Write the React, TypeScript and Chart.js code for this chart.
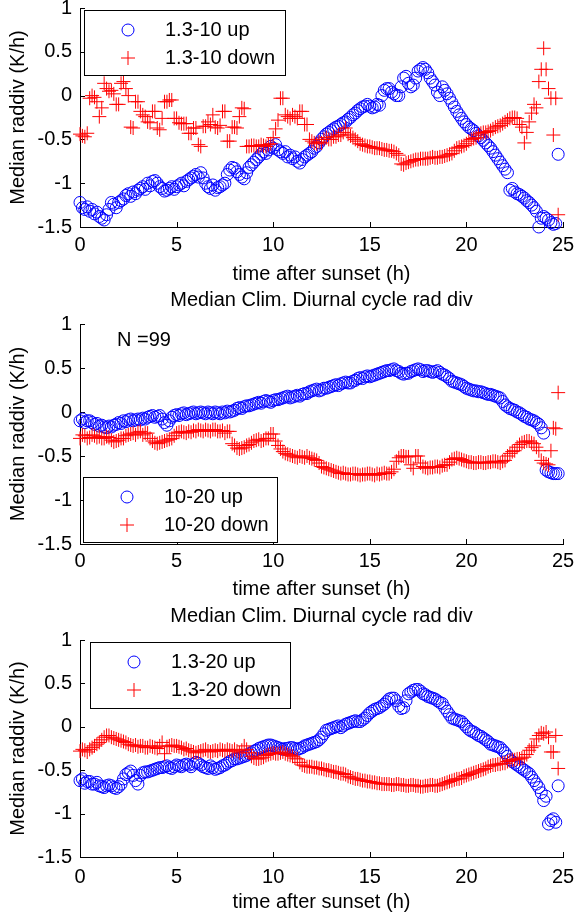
import React, { useEffect, useRef } from "react";
import { Chart, registerables } from "chart.js";

Chart.register(...registerables);

// ---------- data ----------
const hours = [
  0, 0.125, 0.25, 0.375, 0.5, 0.625, 0.75, 0.875,
  1, 1.125, 1.25, 1.375, 1.5, 1.625, 1.75, 1.875,
  2, 2.125, 2.25, 2.375, 2.5, 2.625, 2.75, 2.875,
  3, 3.125, 3.25, 3.375, 3.5, 3.625, 3.75, 3.875,
  4, 4.125, 4.25, 4.375, 4.5, 4.625, 4.75, 4.875,
  5, 5.125, 5.25, 5.375, 5.5, 5.625, 5.75, 5.875,
  6, 6.125, 6.25, 6.375, 6.5, 6.625, 6.75, 6.875,
  7, 7.125, 7.25, 7.375, 7.5, 7.625, 7.75, 7.875,
  8, 8.125, 8.25, 8.375, 8.5, 8.625, 8.75, 8.875,
  9, 9.125, 9.25, 9.375, 9.5, 9.625, 9.75, 9.875,
  10, 10.125, 10.25, 10.375, 10.5, 10.625, 10.75, 10.875,
  11, 11.125, 11.25, 11.375, 11.5, 11.625, 11.75, 11.875,
  12, 12.125, 12.25, 12.375, 12.5, 12.625, 12.75, 12.875,
  13, 13.125, 13.25, 13.375, 13.5, 13.625, 13.75, 13.875,
  14, 14.125, 14.25, 14.375, 14.5, 14.625, 14.75, 14.875,
  15, 15.125, 15.25, 15.375, 15.5, 15.625, 15.75, 15.875,
  16, 16.125, 16.25, 16.375, 16.5, 16.625, 16.75, 16.875,
  17, 17.125, 17.25, 17.375, 17.5, 17.625, 17.75, 17.875,
  18, 18.125, 18.25, 18.375, 18.5, 18.625, 18.75, 18.875,
  19, 19.125, 19.25, 19.375, 19.5, 19.625, 19.75, 19.875,
  20, 20.125, 20.25, 20.375, 20.5, 20.625, 20.75, 20.875,
  21, 21.125, 21.25, 21.375, 21.5, 21.625, 21.75, 21.875,
  22, 22.125, 22.25, 22.375, 22.5, 22.625, 22.75, 22.875,
  23, 23.125, 23.25, 23.375, 23.5, 23.625, 23.75, 23.875,
  24, 24.125, 24.25, 24.375, 24.5, 24.625, 24.75,
];

const xTickValues = [0, 5, 10, 15, 20, 25];
const yTickValues = [-1.5, -1, -0.5, 0, 0.5, 1];

const xAxisTitle = "time after sunset (h)";
const yAxisTitle = "Median raddiv (K/h)";
const panelTitle = "Median Clim. Diurnal cycle rad div";

const labels1 = ["1.3-10 up", "1.3-10 down"];
const labels2 = ["10-20 up", "10-20 down"];
const labels3 = ["1.3-20 up", "1.3-20 down"];
const note2 = "N =99";

const up1 = [
  -1.22, -1.28, -1.3, -1.27, -1.32, -1.3, -1.35, -1.33,
  -1.38, -1.4, -1.42, -1.36, -1.3, -1.22, -1.24, -1.28,
  -1.22, -1.2, -1.18, -1.14, -1.12, -1.15, -1.1, -1.12,
  -1.08, -1.06, -1.04, -1.07, -1.0, -1.03, -0.98, -0.97,
  -1.0, -1.04, -1.06, -1.09, -1.08, -1.06, -1.04, -1.07,
  -1.04, -1.02, -1.0, -1.03, -0.98, -0.96, -0.94, -0.92,
  -0.9, -0.93, -0.88, -0.94, -1.0, -1.04, -1.06, -1.02,
  -1.08, -1.05, -1.04, -1.02, -1.0, -0.9, -0.85, -0.82,
  -0.83, -0.87, -0.9, -0.93, -0.95, -0.88, -0.82, -0.79,
  -0.76, -0.73, -0.7, -0.67, -0.64, -0.66, -0.62, -0.58,
  -0.6, -0.56, -0.62, -0.64, -0.66, -0.64, -0.7, -0.68,
  -0.72, -0.7, -0.75, -0.77, -0.73, -0.7, -0.68, -0.66,
  -0.64, -0.6, -0.58, -0.54, -0.5, -0.47, -0.44, -0.42,
  -0.4, -0.38, -0.36, -0.35, -0.33, -0.31, -0.3, -0.27,
  -0.25, -0.22, -0.2, -0.17, -0.15, -0.13, -0.12, -0.1,
  -0.12, -0.14, -0.13, -0.1, -0.11, 0.0, 0.06, 0.08,
  0.08, 0.04, 0.02, 0.0, 0.0, 0.1, 0.2, 0.22,
  0.14, 0.1, 0.12, 0.2, 0.28, 0.3, 0.32, 0.3,
  0.26, 0.2, 0.16, 0.12, 0.04, 0.0, 0.1, 0.06,
  0.02, -0.03, -0.08, -0.13, -0.18, -0.22, -0.26, -0.3,
  -0.33, -0.36, -0.38, -0.4, -0.43, -0.46, -0.48, -0.51,
  -0.54, -0.57, -0.6, -0.64, -0.68, -0.72, -0.76, -0.8,
  -0.84, -0.88, -1.08, -1.06, -1.1, -1.12, -1.13, -1.15,
  -1.17, -1.2, -1.22, -1.25, -1.28, -1.32, -1.5, -1.4,
  -1.38, -1.4, -1.42, -1.45, -1.47, -1.46, -0.67,
];

const down1 = [
  -0.44, -0.46, -0.47, -0.43, -0.03, 0.0, -0.02, -0.07,
  -0.24, -0.14, 0.14, 0.08, 0.05, 0.06, 0.02, -0.1,
  -0.1, 0.14, 0.16, 0.08, 0.0, -0.36, -0.37, -0.07,
  -0.07, -0.18, -0.22, -0.24, -0.3, -0.31, -0.18, -0.18,
  -0.37, -0.39, -0.26, -0.07, -0.07, -0.05, -0.05, -0.26,
  -0.26, -0.31, -0.32, -0.32, -0.32, -0.43, -0.43, -0.37,
  -0.37, -0.56, -0.58, -0.35, -0.35, -0.3, -0.33, -0.22,
  -0.36, -0.37, -0.34, -0.18, -0.18, -0.52, -0.52, -0.36,
  -0.36, -0.37, -0.24, -0.14, -0.15, -0.58, -0.58, -0.57,
  -0.57, -0.58, -0.58, -0.56, -0.57, -0.58, -0.56, -0.55,
  -0.48, -0.38, -0.28, -0.03, -0.03, -0.22, -0.24, -0.26,
  -0.22, -0.24, -0.26, -0.18, -0.18, -0.33, -0.33, -0.5,
  -0.52, -0.54, -0.55, -0.53, -0.54, -0.5, -0.48, -0.5,
  -0.5, -0.47, -0.47, -0.45, -0.45, -0.42, -0.37, -0.44,
  -0.46, -0.48, -0.5, -0.52, -0.55, -0.56, -0.57, -0.58,
  -0.58, -0.59, -0.6, -0.6, -0.6, -0.61, -0.62, -0.62,
  -0.63, -0.63, -0.64, -0.66, -0.68, -0.78, -0.79, -0.77,
  -0.76, -0.75, -0.74, -0.73, -0.73, -0.72, -0.72, -0.72,
  -0.72, -0.71, -0.7, -0.71, -0.71, -0.7, -0.7, -0.69,
  -0.68, -0.67, -0.66, -0.63, -0.6, -0.59, -0.58, -0.57,
  -0.55, -0.52, -0.5, -0.49, -0.48, -0.45, -0.43, -0.42,
  -0.42, -0.41, -0.4, -0.38, -0.36, -0.35, -0.34, -0.32,
  -0.3, -0.28, -0.26, -0.25, -0.25, -0.26, -0.33, -0.36,
  -0.54, -0.42, -0.3, -0.2, -0.1, -0.14, 0.16, 0.3,
  0.54, 0.3, 0.08, -0.03, -0.45, -0.03, -1.36,
];

const up2 = [
  -0.1, -0.08, -0.12, -0.1, -0.1, -0.12, -0.14, -0.13,
  -0.16, -0.15, -0.17, -0.18, -0.16, -0.17, -0.15, -0.14,
  -0.12, -0.13, -0.1, -0.11, -0.09, -0.08, -0.1, -0.09,
  -0.08, -0.09, -0.07, -0.08, -0.06, -0.05, -0.04, -0.06,
  -0.05, -0.04, -0.08, -0.12, -0.15, -0.1, -0.06, -0.04,
  -0.03, -0.04, -0.02, -0.01, -0.03, -0.02, -0.01, 0.0,
  -0.02, -0.01, 0.0, -0.01, -0.02, 0.0, -0.01, -0.02,
  0.0, -0.01, -0.02, 0.0, -0.01, 0.01, 0.0, 0.01,
  0.02, 0.04, 0.05, 0.04, 0.06, 0.07, 0.07, 0.08,
  0.09, 0.1, 0.11, 0.1, 0.12, 0.13, 0.12, 0.11,
  0.13, 0.14, 0.14, 0.15, 0.16, 0.17, 0.18, 0.16,
  0.17, 0.18, 0.19, 0.18, 0.2, 0.21, 0.21, 0.23,
  0.24, 0.25, 0.26, 0.24, 0.25, 0.27, 0.27, 0.28,
  0.29, 0.3, 0.31, 0.3, 0.32, 0.33, 0.34, 0.33,
  0.33, 0.35, 0.36, 0.38, 0.39, 0.38, 0.4, 0.41,
  0.4, 0.41, 0.42, 0.43, 0.44, 0.45, 0.46, 0.47,
  0.47, 0.48, 0.49, 0.47, 0.46, 0.44, 0.43, 0.44,
  0.44, 0.46, 0.47, 0.48, 0.49, 0.48, 0.46, 0.47,
  0.47, 0.46, 0.45, 0.46, 0.47, 0.45, 0.43, 0.42,
  0.4, 0.38, 0.35, 0.34, 0.33, 0.32, 0.31, 0.29,
  0.27, 0.26, 0.25, 0.24, 0.24, 0.23, 0.23, 0.22,
  0.21, 0.2, 0.2, 0.19, 0.18, 0.17, 0.16, 0.12,
  0.08, 0.06, 0.04, 0.03, 0.02, 0.0, -0.01, -0.03,
  -0.05, -0.06, -0.08, -0.09, -0.1, -0.12, -0.14, -0.18,
  -0.24, -0.66, -0.68, -0.69, -0.7, -0.7, -0.7,
];

const down2 = [
  -0.3, -0.26, -0.27, -0.3, -0.29, -0.26, -0.27, -0.29,
  -0.28, -0.3, -0.3, -0.28, -0.29, -0.32, -0.34, -0.33,
  -0.32, -0.3, -0.3, -0.27, -0.26, -0.25, -0.24, -0.26,
  -0.23, -0.22, -0.26, -0.24, -0.24, -0.3, -0.33, -0.35,
  -0.36, -0.35, -0.34, -0.33, -0.32, -0.31, -0.3, -0.27,
  -0.24, -0.23, -0.22, -0.23, -0.24, -0.22, -0.23, -0.21,
  -0.22, -0.2, -0.21, -0.22, -0.2, -0.21, -0.22, -0.2,
  -0.2, -0.22, -0.22, -0.21, -0.24, -0.22, -0.22, -0.36,
  -0.38, -0.41, -0.42, -0.41, -0.4, -0.38, -0.37, -0.35,
  -0.33, -0.32, -0.31, -0.33, -0.32, -0.3, -0.3, -0.25,
  -0.25, -0.33, -0.38, -0.42, -0.45, -0.47, -0.48, -0.49,
  -0.5, -0.51, -0.52, -0.5, -0.51, -0.52, -0.5, -0.52,
  -0.53, -0.54, -0.55, -0.58, -0.62, -0.63, -0.64, -0.65,
  -0.66, -0.67, -0.68, -0.69, -0.7, -0.69, -0.7, -0.71,
  -0.71, -0.7, -0.7, -0.71, -0.72, -0.71, -0.71, -0.7,
  -0.7, -0.71, -0.72, -0.7, -0.71, -0.7, -0.69, -0.7,
  -0.7, -0.68, -0.65, -0.56, -0.52, -0.5, -0.5, -0.51,
  -0.51, -0.6, -0.64, -0.5, -0.5, -0.58, -0.62, -0.63,
  -0.64, -0.63, -0.63, -0.62, -0.62, -0.63, -0.61, -0.6,
  -0.6, -0.57, -0.54, -0.53, -0.52, -0.53, -0.54, -0.55,
  -0.56, -0.57, -0.57, -0.58, -0.58, -0.57, -0.57, -0.58,
  -0.58, -0.57, -0.57, -0.56, -0.56, -0.57, -0.58, -0.56,
  -0.55, -0.5, -0.47, -0.45, -0.44, -0.4, -0.37, -0.35,
  -0.34, -0.33, -0.33, -0.35, -0.36, -0.4, -0.44, -0.55,
  -0.58, -0.59, -0.6, -0.44, -0.18, -0.19, 0.22,
];

const up3 = [
  -0.62, -0.6, -0.65, -0.63, -0.63, -0.66, -0.66, -0.64,
  -0.68, -0.69, -0.7, -0.68, -0.67, -0.68, -0.7, -0.71,
  -0.69, -0.66, -0.6, -0.55, -0.53, -0.51, -0.56, -0.62,
  -0.66, -0.56, -0.53, -0.52, -0.52, -0.51, -0.5, -0.49,
  -0.48, -0.47, -0.47, -0.46, -0.45, -0.47, -0.48, -0.46,
  -0.44, -0.45, -0.46, -0.44, -0.43, -0.44, -0.46, -0.43,
  -0.41, -0.42, -0.44, -0.46, -0.47, -0.48, -0.45, -0.47,
  -0.49, -0.48, -0.47, -0.45, -0.44, -0.42, -0.4, -0.39,
  -0.37, -0.37, -0.36, -0.35, -0.34, -0.33, -0.31, -0.3,
  -0.28, -0.27, -0.25, -0.24, -0.23, -0.22, -0.21, -0.21,
  -0.22, -0.23, -0.24, -0.25, -0.26, -0.25, -0.25, -0.24,
  -0.24, -0.25, -0.26, -0.25, -0.24, -0.22, -0.21, -0.2,
  -0.19, -0.18, -0.17, -0.15, -0.12, -0.08, -0.04, -0.03,
  -0.02, -0.01, 0.0, 0.01, -0.01, 0.01, 0.03, 0.04,
  0.05, 0.06, 0.07, 0.06, 0.06, 0.08, 0.1, 0.13,
  0.16, 0.18, 0.2, 0.21, 0.22, 0.24, 0.26, 0.29,
  0.32, 0.33, 0.33, 0.3, 0.24, 0.21, 0.22, 0.3,
  0.38, 0.4, 0.42, 0.43, 0.43, 0.41, 0.38, 0.37,
  0.35, 0.34, 0.33, 0.32, 0.3, 0.28, 0.27, 0.22,
  0.18, 0.14, 0.1, 0.09, 0.08, 0.07, 0.06, 0.03,
  0.0, -0.03, -0.05, -0.06, -0.08, -0.1, -0.11, -0.13,
  -0.15, -0.17, -0.2, -0.21, -0.22, -0.23, -0.24, -0.27,
  -0.3, -0.34, -0.38, -0.4, -0.42, -0.44, -0.46, -0.48,
  -0.5, -0.52, -0.54, -0.58, -0.62, -0.66, -0.7, -0.76,
  -0.85, -0.8, -1.12, -1.08, -1.06, -1.1, -0.68,
];

const down3 = [
  -0.28, -0.26, -0.27, -0.29, -0.26, -0.24, -0.22, -0.2,
  -0.18, -0.15, -0.12, -0.1, -0.1, -0.12, -0.13, -0.14,
  -0.15, -0.16, -0.17, -0.18, -0.2, -0.21, -0.22, -0.21,
  -0.23, -0.22, -0.22, -0.24, -0.24, -0.22, -0.23, -0.24,
  -0.25, -0.22, -0.18, -0.31, -0.23, -0.22, -0.21, -0.22,
  -0.22, -0.23, -0.24, -0.26, -0.25, -0.27, -0.28, -0.29,
  -0.3, -0.29, -0.28, -0.27, -0.26, -0.28, -0.29, -0.28,
  -0.27, -0.28, -0.26, -0.27, -0.28, -0.26, -0.27, -0.28,
  -0.26, -0.28, -0.3, -0.27, -0.22, -0.26, -0.3, -0.34,
  -0.36, -0.37, -0.37, -0.36, -0.35, -0.33, -0.32, -0.31,
  -0.3, -0.31, -0.31, -0.3, -0.29, -0.31, -0.32, -0.33,
  -0.34, -0.36, -0.37, -0.41, -0.44, -0.45, -0.46, -0.46,
  -0.46, -0.47, -0.47, -0.48, -0.48, -0.49, -0.5, -0.5,
  -0.51, -0.52, -0.52, -0.53, -0.54, -0.54, -0.55, -0.57,
  -0.58, -0.59, -0.6, -0.6, -0.61, -0.62, -0.62, -0.63,
  -0.63, -0.64, -0.64, -0.65, -0.65, -0.66, -0.66, -0.66,
  -0.66, -0.67, -0.67, -0.66, -0.66, -0.67, -0.67, -0.68,
  -0.68, -0.67, -0.67, -0.68, -0.68, -0.69, -0.69, -0.68,
  -0.68, -0.67, -0.67, -0.68, -0.68, -0.67, -0.66, -0.65,
  -0.64, -0.63, -0.62, -0.61, -0.6, -0.6, -0.59, -0.57,
  -0.56, -0.55, -0.54, -0.53, -0.52, -0.51, -0.5, -0.49,
  -0.48, -0.46, -0.45, -0.44, -0.44, -0.43, -0.43, -0.42,
  -0.42, -0.4, -0.39, -0.38, -0.38, -0.37, -0.37, -0.36,
  -0.35, -0.32, -0.27, -0.24, -0.22, -0.14, -0.1, -0.07,
  -0.08, -0.06, -0.12, -0.29, -0.29, -0.1, -0.48,
];

// ---------- styling / layout ----------
const FONT = '"Liberation Sans", Arial, Helvetica, sans-serif';
const W = 577;

type LegendBox = { dx: number; dy: number; w: number; h: number };
type Panel = {
  top: number;
  height: number;
  pad: { top: number; right: number; bottom: number; left: number };
  xHeight: number;
  xTickPad: number;
  title: null | { top: number; bottom: number };
  legend: LegendBox;
  labels: string[];
  up: number[];
  down: number[];
  note: null | { text: string; dx: number; dy: number };
};

const panels: Panel[] = [
  {
    top: 0, height: 290,
    pad: { top: 6, right: 14, bottom: 4, left: 0 },
    xHeight: 59, xTickPad: 6, title: null,
    legend: { dx: 4, dy: 2, w: 201, h: 65 },
    labels: labels1, up: up1, down: down1, note: null,
  },
  {
    top: 286, height: 320,
    pad: { top: 0, right: 14, bottom: 5, left: 0 },
    xHeight: 57, xTickPad: 5, title: { top: 2, bottom: 12 },
    legend: { dx: 3, dy: 153, w: 194, h: 65 },
    labels: labels2, up: up2, down: down2,
    note: { text: note2, dx: 37, dy: 16 },
  },
  {
    top: 600, height: 314,
    pad: { top: 0, right: 14, bottom: 0, left: 0 },
    xHeight: 57, xTickPad: 8, title: { top: 4, bottom: 12 },
    legend: { dx: 10, dy: 2, w: 200, h: 66 },
    labels: labels3, up: up3, down: down3, note: null,
  },
];

const decorPlugin = {
  id: "decor",
  beforeDatasetsDraw(chart: any) {
    const { ctx, chartArea, scales } = chart;
    ctx.save();
    ctx.strokeStyle = "#000";
    ctx.lineWidth = 1;
    ctx.beginPath();
    for (const t of scales.x.ticks) {
      const px = Math.round(scales.x.getPixelForValue(t.value)) + 0.5;
      ctx.moveTo(px, chartArea.bottom);
      ctx.lineTo(px, chartArea.bottom - 5);
    }
    for (const t of scales.y.ticks) {
      const py = Math.round(scales.y.getPixelForValue(t.value)) + 0.5;
      ctx.moveTo(chartArea.left, py);
      ctx.lineTo(chartArea.left + 5, py);
    }
    ctx.stroke();
    ctx.restore();
  },
  afterDraw(chart: any, _args: any, opts: any) {
    const { ctx, chartArea } = chart;
    const lg: LegendBox = opts.legend;
    const labels: string[] = opts.labels;
    const x = Math.round(chartArea.left + lg.dx);
    const y = Math.round(chartArea.top + lg.dy);
    ctx.save();
    ctx.fillStyle = "#fff";
    ctx.fillRect(x, y, lg.w, lg.h);
    ctx.strokeStyle = "#000";
    ctx.lineWidth = 1;
    ctx.strokeRect(x + 0.5, y + 0.5, lg.w, lg.h);
    const r1 = y + 20;
    const r2 = y + 48;
    const mx = x + 44;
    ctx.strokeStyle = "#0000ff";
    ctx.beginPath();
    ctx.arc(mx, r1, 6, 0, Math.PI * 2);
    ctx.stroke();
    ctx.strokeStyle = "#ff0000";
    ctx.beginPath();
    ctx.moveTo(mx - 7, r2);
    ctx.lineTo(mx + 7, r2);
    ctx.moveTo(mx, r2 - 7);
    ctx.lineTo(mx, r2 + 7);
    ctx.stroke();
    ctx.fillStyle = "#000";
    ctx.font = `20px ${FONT}`;
    ctx.textBaseline = "middle";
    ctx.textAlign = "left";
    ctx.fillText(labels[0], x + 81, r1);
    ctx.fillText(labels[1], x + 81, r2);
    if (opts.note) {
      ctx.fillText(opts.note.text, chartArea.left + opts.note.dx, chartArea.top + opts.note.dy);
    }
    ctx.restore();
  },
};

function makeConfig(p: Panel): any {
  const upData = hours.map((h, i) => ({ x: h, y: p.up[i] }));
  const downData = hours.map((h, i) => ({ x: h, y: p.down[i] }));
  return {
    type: "scatter",
    data: {
      datasets: [
        {
          label: p.labels[0],
          data: upData,
          pointStyle: "circle",
          pointRadius: 6,
          pointBorderWidth: 1,
          pointBorderColor: "#0000ff",
          pointBackgroundColor: "rgba(0,0,0,0)",
          showLine: false,
          clip: false,
          order: 1,
        },
        {
          label: p.labels[1],
          data: downData,
          pointStyle: "cross",
          pointRadius: 7,
          pointBorderWidth: 1,
          pointBorderColor: "#ff0000",
          pointBackgroundColor: "#ff0000",
          showLine: false,
          clip: false,
          order: 0,
        },
      ],
    },
    options: {
      animation: false,
      responsive: false,
      events: [],
      layout: { padding: p.pad },
      plugins: {
        legend: { display: false },
        tooltip: { enabled: false },
        title: p.title
          ? {
              display: true,
              text: panelTitle,
              fullSize: false,
              color: "#000",
              font: { size: 20, weight: "normal", family: FONT },
              padding: { top: p.title.top, bottom: p.title.bottom },
            }
          : { display: false },
        decor: { legend: p.legend, labels: p.labels, note: p.note },
      },
      scales: {
        x: {
          type: "linear",
          min: 0,
          max: 25,
          afterBuildTicks: (s: any) => {
            s.ticks = xTickValues.map((value) => ({ value }));
          },
          afterFit: (s: any) => {
            s.height = p.xHeight;
            s.paddingLeft = 0;
            s.paddingRight = 0;
          },
          grid: { display: false, drawTicks: false },
          border: { display: true, color: "#000", width: 1 },
          ticks: {
            padding: p.xTickPad,
            color: "#000",
            font: { size: 20, family: FONT },
            maxRotation: 0,
            autoSkip: false,
            callback: (v: any) => String(v),
          },
          title: {
            display: true,
            text: xAxisTitle,
            color: "#000",
            font: { size: 20, family: FONT },
            padding: { top: 0, bottom: 0 },
          },
        },
        y: {
          type: "linear",
          min: -1.5,
          max: 1,
          afterBuildTicks: (s: any) => {
            s.ticks = yTickValues.map((value) => ({ value }));
          },
          afterFit: (s: any) => {
            s.width = 80;
            s.paddingTop = 0;
            s.paddingBottom = 0;
          },
          grid: { display: false, drawTicks: false },
          border: { display: true, color: "#000", width: 1 },
          ticks: {
            padding: 8,
            color: "#000",
            font: { size: 20, family: FONT },
            autoSkip: false,
            callback: (v: any) => String(v),
          },
          title: {
            display: true,
            text: yAxisTitle,
            color: "#000",
            font: { size: 20, family: FONT },
            padding: { top: 6, bottom: 0 },
          },
        },
      },
    },
    plugins: [decorPlugin],
  };
}

function PanelChart({ p }: { p: Panel }) {
  const ref = useRef<HTMLCanvasElement | null>(null);
  useEffect(() => {
    if (!ref.current) return;
    const chart = new Chart(ref.current, makeConfig(p));
    return () => chart.destroy();
  }, [p]);
  return (
    <canvas
      ref={ref}
      width={W}
      height={p.height}
      style={{ position: "absolute", left: 0, top: p.top, width: W, height: p.height }}
    />
  );
}

export default function App() {
  return (
    <div
      style={{
        position: "absolute",
        left: 0,
        top: 0,
        width: W,
        height: 914,
        overflow: "hidden",
        background: "#fff",
      }}
    >
      {panels.map((p, i) => (
        <PanelChart key={i} p={p} />
      ))}
    </div>
  );
}
